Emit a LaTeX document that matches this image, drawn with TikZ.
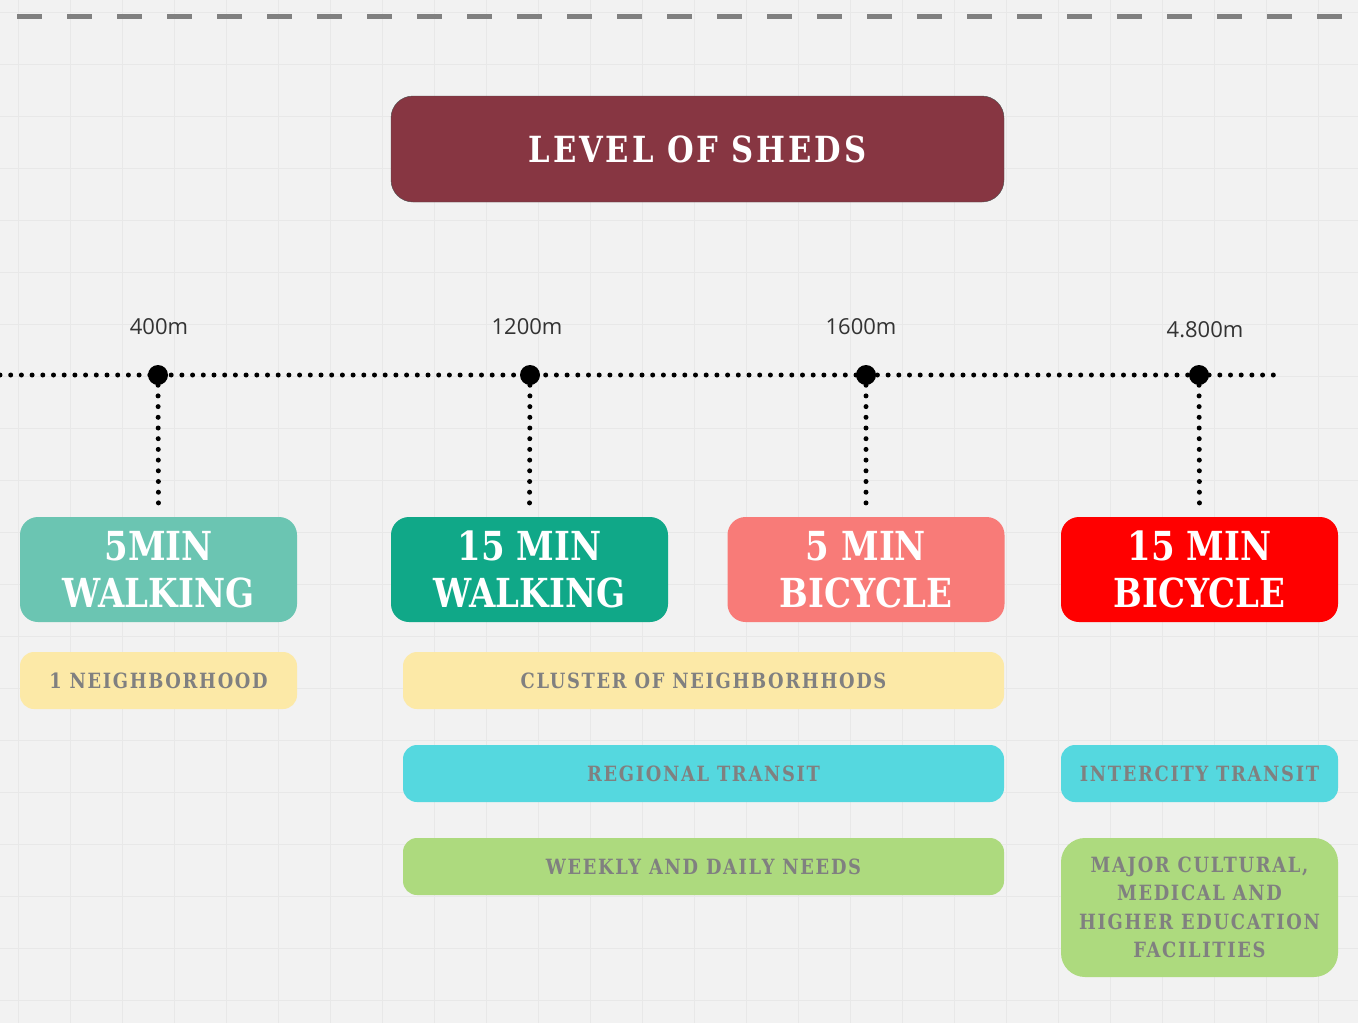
\documentclass[tikz,border=0pt]{standalone}
\usepackage{fontspec}
\setmainfont{DejaVu Serif}
\newfontfamily\slab[FakeStretch=0.85]{DejaVu Serif}
\newfontfamily\slabsp[FakeStretch=0.85, LetterSpace=8]{DejaVu Serif}
\newfontfamily\numfont{Open Sans}
\usetikzlibrary{positioning}
\definecolor{bgc}{HTML}{F2F2F2}
\definecolor{gridc}{HTML}{E8E8E8}
\definecolor{wine}{HTML}{873642}
\definecolor{tealA}{HTML}{6BC5B2}
\definecolor{tealB}{HTML}{10A888}
\definecolor{salmon}{HTML}{F87B78}
\definecolor{brightred}{HTML}{FF0000}
\definecolor{paleyel}{HTML}{FCE9A7}
\definecolor{cyanc}{HTML}{55D8DF}
\definecolor{greenc}{HTML}{ADDA7E}
\definecolor{txtgray}{HTML}{808080}
\tikzset{
  shedbox/.style={rounded corners=18pt, inner sep=0pt, minimum width=277pt, minimum height=105pt, text=white, align=center, font={\slab\bfseries\fontsize{40}{47}\selectfont}},
  needbox/.style={rounded corners=14pt, inner sep=0pt, minimum height=57pt, text=txtgray, align=center, font={\slabsp\bfseries\fontsize{21}{28.5}\selectfont}},
  bigdot/.style={circle, fill=black, inner sep=0pt, minimum size=20pt},
  dotline/.style={line width=5pt, line cap=round, dash pattern=on 0pt off 10.7pt},
  dist/.style={font={\numfont\fontsize{22}{24}\selectfont}, text=black!80}
}
\begin{document}
\begin{tikzpicture}[x=1pt, y=-1pt]
\fill[bgc] (0,0) rectangle (1358,1023);
\useasboundingbox (0,0) rectangle (1358,1023);
% grid
\foreach \gx in {18,70,...,1358} \draw[gridc, line width=1pt] (\gx,0)--(\gx,1023);
\foreach \gy in {12,64,...,1023} \draw[gridc, line width=1pt] (0,\gy)--(1358,\gy);
\draw[txtgray, line width=5pt, dash pattern=on 25pt off 25pt] (17,16)--(1355,16);
% title
\node[draw=black!70, fill=wine, rounded corners=22pt, minimum width=613pt, minimum height=106pt, text=white, font={\slabsp\bfseries\fontsize{36}{40}\selectfont}] (title) at (697.5,149) {LEVEL OF SHEDS};
% timeline
\coordinate (tl) at (0,375);
\coordinate (tr) at (1278,375);
\draw[dotline] (tl)--(tr);
\node[bigdot] (d1) at (158,375) {};
\node[bigdot] (d2) at (530,375) {};
\node[bigdot] (d3) at (866,375) {};
\node[bigdot] (d4) at (1199,375) {};
\node[dist] at (159,327) {400m};
\node[dist] at (527,327) {1200m};
\node[dist] at (861,327) {1600m};
\node[dist] at (1205,330) {4.800m};
% sheds
\node[shedbox, fill=tealA] (w5) at (158.5,569.5) {5MIN\\WALKING};
\node[shedbox, fill=tealB] (w15) at (529.5,569.5) {15 MIN\\WALKING};
\node[shedbox, fill=salmon] (b5) at (866,569.5) {5 MIN\\BICYCLE};
\node[shedbox, fill=brightred] (b15) at (1199.5,569.5) {15 MIN\\BICYCLE};
\foreach \d/\b in {d1/w5, d2/w15, d3/b5, d4/b15}
  \draw[dotline, shorten >=10pt] (\d)--(\b.north);
% needs
\node[needbox, fill=paleyel, minimum width=277pt] (hood) at (158.5,680.5) {1 NEIGHBORHOOD};
\node[needbox, fill=paleyel, minimum width=601pt] (cluster) at (703.5,680.5) {CLUSTER OF NEIGHBORHHODS};
\node[needbox, fill=cyanc, minimum width=601pt] (regional) at (703.5,773.5) {REGIONAL TRANSIT};
\node[needbox, fill=cyanc, minimum width=277pt] (intercity) at (1199.5,773.5) {INTERCITY TRANSIT};
\node[needbox, fill=greenc, minimum width=601pt] (weekly) at (703.5,866.5) {WEEKLY AND DAILY NEEDS};
\node[needbox, fill=greenc, minimum width=277pt, minimum height=139pt, rounded corners=24pt] (major) at (1199.5,907.5) {MAJOR CULTURAL,\\MEDICAL AND\\HIGHER EDUCATION\\FACILITIES};
\end{tikzpicture}
\end{document}
